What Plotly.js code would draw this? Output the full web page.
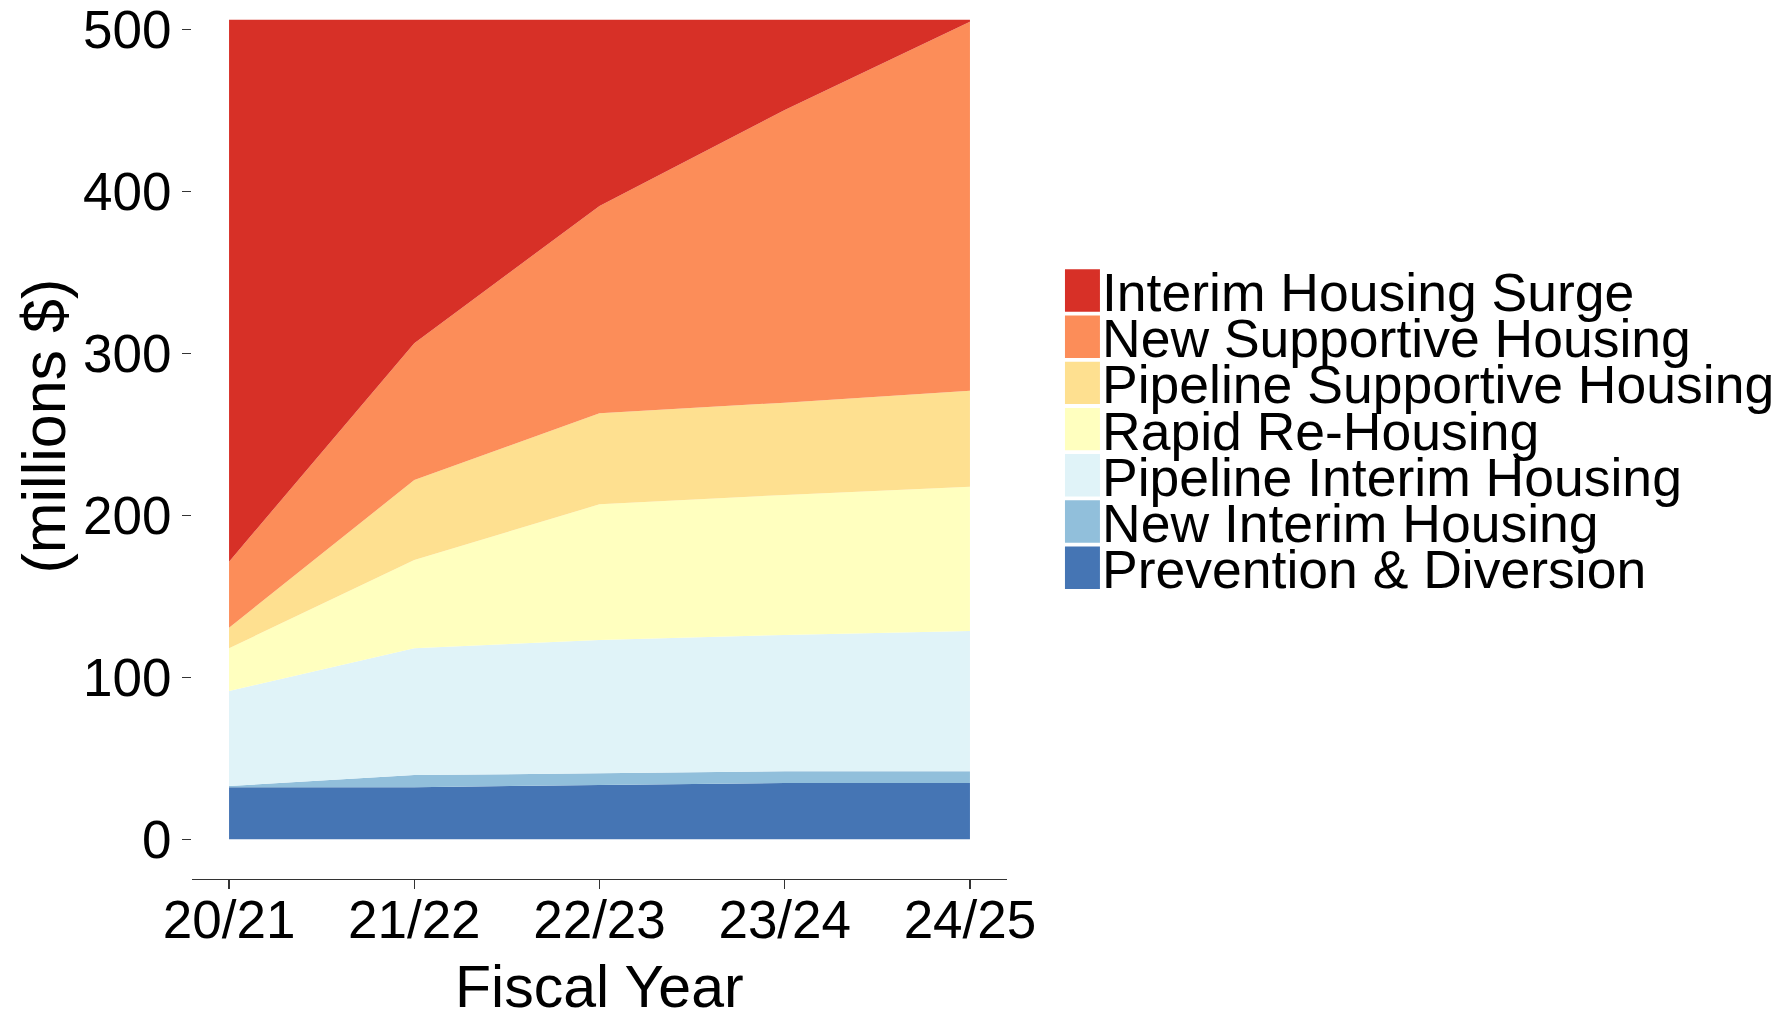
<!DOCTYPE html>
<html>
<head>
<meta charset="utf-8">
<script src="https://cdn.plot.ly/plotly-3.0.1.min.js"></script>
<style>html,body{margin:0;padding:0;background:#fff;}#chart{width:1783px;height:1013px;}</style>
</head>
<body>
<div id="chart"></div>
<script>
// ---- data (millions $) ----
const years = ['20/21', '21/22', '22/23', '23/24', '24/25'];
const seriesNames = ['Interim Housing Surge', 'New Supportive Housing', 'Pipeline Supportive Housing', 'Rapid Re-Housing', 'Pipeline Interim Housing', 'New Interim Housing', 'Prevention & Diversion'];
const seriesColors = ['#D73027', '#FC8D59', '#FEE090', '#FFFFBF', '#E0F3F8', '#91BFDB', '#4575B4'];
const interimHousingSurge = [334.7, 199.8, 115.0, 55.7, 1.2];
const newSupportiveHousing = [40.8, 84.5, 128.1, 180.8, 227.9];
const pipelineSupportiveHousing = [12.7, 49.4, 56.2, 57.0, 59.3];
const rapidReHousing = [26.4, 54.5, 83.8, 86.5, 89.1];
const pipelineInterimHousing = [58.7, 78.3, 82.3, 84.2, 86.7];
const newInterimHousing = [0.8, 7.6, 7.2, 7.2, 7.2];
const preventionDiversion = [32.1, 32.1, 33.6, 34.8, 34.8];
const yTickValues = [0, 100, 200, 300, 400, 500];
const yTickLabels = ['0', '100', '200', '300', '400', '500'];
const xTitle = 'Fiscal Year';
const yTitle = '(millions $)';

const seriesValues = [interimHousingSurge, newSupportiveHousing, pipelineSupportiveHousing, rapidReHousing, pipelineInterimHousing, newInterimHousing, preventionDiversion];

// ---- layout geometry (px) ----
const W = 1783, H = 1013;
const M = {l: 191.5, r: W - 1007, t: 9, b: H - 879};
const PW = W - M.l - M.r, PH = H - M.t - M.b;
const px2x = p => (p - M.l) / PW;
const px2y = p => (H - M.b - p) / PH;
const FONT = 'Liberation Sans, Arial, sans-serif';

// traces stacked bottom-up (reverse of legend order)
const traces = [];
for (let i = seriesNames.length - 1; i >= 0; i--) {
  traces.push({
    type: 'scatter', mode: 'none', x: years, y: seriesValues[i], name: seriesNames[i],
    stackgroup: 'one', fillcolor: seriesColors[i], line: {width: 0}, hoverinfo: 'x+y+name', showlegend: false
  });
}

// manual legend (keys + labels) built from the name/colour arrays
const shapes = [], annotations = [];
const keyX0 = 1065, keyX1 = 1100, keyTop = 269.3, pitch = 46.2, keyH = 42.4;
seriesNames.forEach((nm, i) => {
  const t = keyTop + i * pitch;
  shapes.push({type: 'rect', xref: 'paper', yref: 'paper', x0: px2x(keyX0), x1: px2x(keyX1), y0: px2y(t + keyH), y1: px2y(t),
    fillcolor: seriesColors[i], line: {width: 0}});
  annotations.push({xref: 'paper', yref: 'paper', x: px2x(1100.5), y: px2y(t + keyH / 2 + 2), xanchor: 'left', yanchor: 'middle',
    text: nm, showarrow: false, font: {family: FONT, size: 53.5, color: '#000'}});
});
// axis titles (centred on the ggplot panel, which extends above the picture)
annotations.push({xref: 'paper', yref: 'paper', x: px2x(43), y: px2y(426), xanchor: 'center', yanchor: 'middle',
  textangle: -90, text: yTitle, showarrow: false, font: {family: FONT, size: 61, color: '#000'}});
annotations.push({xref: 'paper', yref: 'paper', x: px2x(599.5), y: px2y(987), xanchor: 'center', yanchor: 'middle',
  text: xTitle, showarrow: false, font: {family: FONT, size: 59, color: '#000'}});

const layout = {
  width: W, height: H, margin: M, paper_bgcolor: '#fff', plot_bgcolor: '#fff', showlegend: false,
  font: {family: FONT, color: '#000'},
  xaxis: {
    type: 'category', range: [-0.2, 4.2], showgrid: false, zeroline: false,
    showline: true, linecolor: '#333', linewidth: 1.2, ticks: 'outside', ticklen: 9, tickwidth: 1.2, tickcolor: '#333',
    ticklabelstandoff: -15,
    tickfont: {family: FONT, size: 53, color: '#000'}
  },
  yaxis: {
    range: [-24.5, 512.8], showgrid: false, zeroline: false, showline: false,
    tickvals: yTickValues, ticktext: yTickLabels,
    ticks: 'outside', ticklen: 9, tickwidth: 1.2, tickcolor: '#333', ticklabelstandoff: 0,
    tickfont: {family: FONT, size: 53, color: '#000'}
  },
  shapes: shapes, annotations: annotations
};

Plotly.newPlot('chart', traces, layout, {displayModeBar: false, staticPlot: true});
</script>
</body>
</html>
